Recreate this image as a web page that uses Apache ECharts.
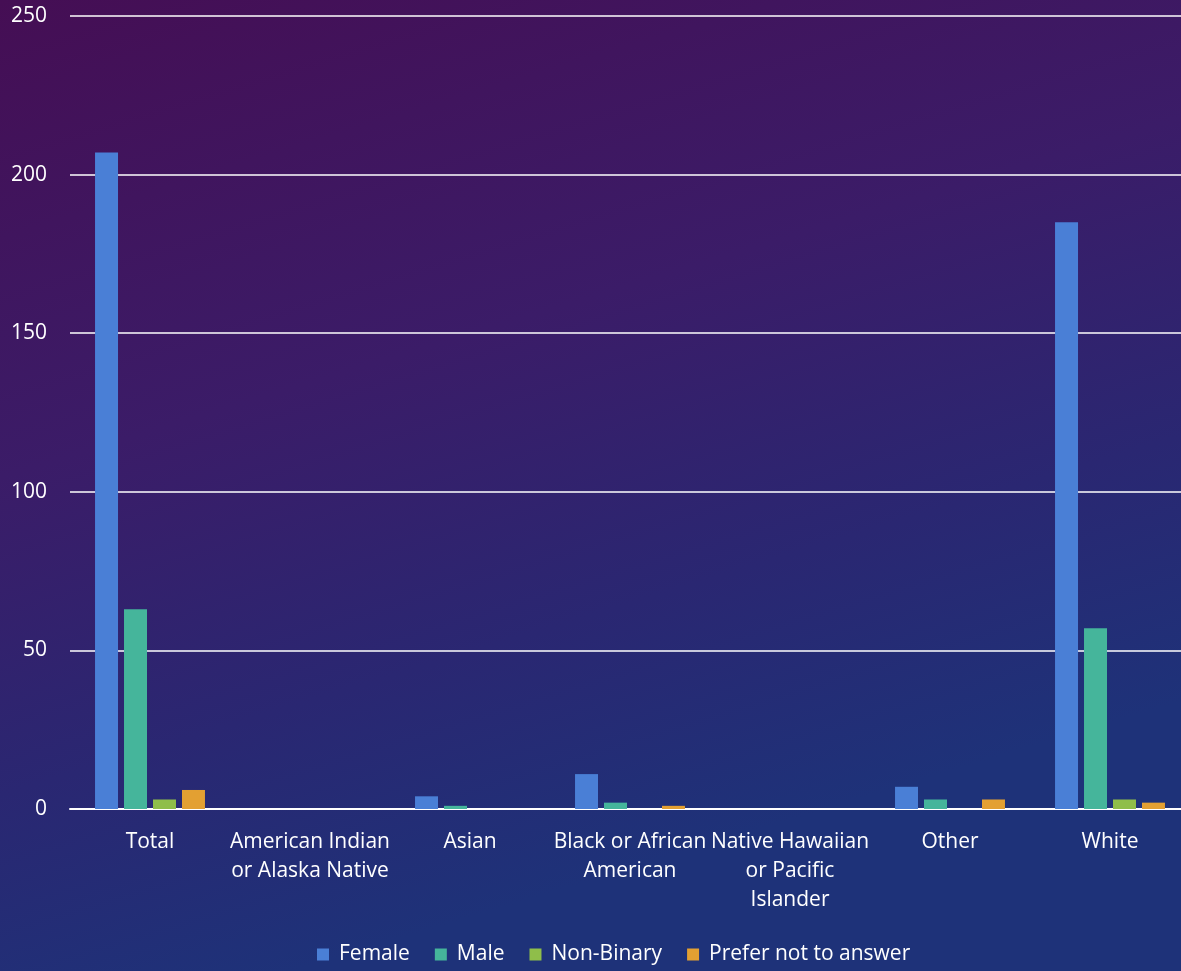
<!DOCTYPE html>
<html><head><meta charset="utf-8">
<script src="https://cdn.jsdelivr.net/npm/echarts@6/dist/echarts.min.js"></script>
<style>html,body{margin:0;padding:0;}#c{width:1181px;height:971px;}</style>
</head><body><div id="c"></div>
<script>
const categories = ["Total","American Indian\nor Alaska Native","Asian","Black or African\nAmerican","Native Hawaiian\nor Pacific\nIslander","Other","White"];
const female = [207,0,4,11,0,7,185];
const male = [63,0,1,2,0,3,57];
const nonBinary = [3,0,0,0,0,0,3];
const preferNot = [6,0,0,1,0,3,2];
const seriesNames = ["Female","Male","Non-Binary","Prefer not to answer"];
const colors = ["#4a7fd6","#45b59b","#8fbe4a","#e3a032"];
const chart = echarts.init(document.getElementById('c'));
const font = "'Open Sans', 'Noto Sans', sans-serif";
const mk = (name, data, i) => ({name, type:'bar', data, barWidth:23, barGap:'26%', itemStyle:{color:colors[i]}});
chart.setOption({
  backgroundColor: {type:'linear', x:0, y:0, x2:0.25, y2:1, colorStops:[
    {offset:0, color:'#450e54'},{offset:0.45, color:'#3b1c68'},{offset:0.75, color:'#2a2772'},{offset:1, color:'#1e3279'}]},
  textStyle:{fontFamily:font},
  legend:{bottom:1, left:312, itemWidth:12, itemHeight:12, itemGap:25, icon:'rect',
    textStyle:{color:'#ffffff', fontSize:21, fontFamily:font, padding:[0,0,0,5]}, data:seriesNames},
  grid:{left:70, width:1120, top:16, bottom:162, outerBoundsMode:'none', containLabel:false},
  xAxis:{type:'category', data:categories,
    axisLine:{lineStyle:{color:'#ffffff', width:2}}, axisTick:{show:false},
    axisLabel:{color:'#ffffff', fontSize:21, fontFamily:font, lineHeight:29, margin:19, interval:0}},
  yAxis:{type:'value', min:0, max:250, interval:50,
    axisLine:{show:false}, axisTick:{show:false},
    splitLine:{lineStyle:{color:'#ffffff', width:1.6}},
    axisLabel:{color:'#ffffff', fontSize:21, fontFamily:font, margin:23}},
  series:[mk(seriesNames[0],female,0),mk(seriesNames[1],male,1),mk(seriesNames[2],nonBinary,2),mk(seriesNames[3],preferNot,3)]
});
</script></body></html>
